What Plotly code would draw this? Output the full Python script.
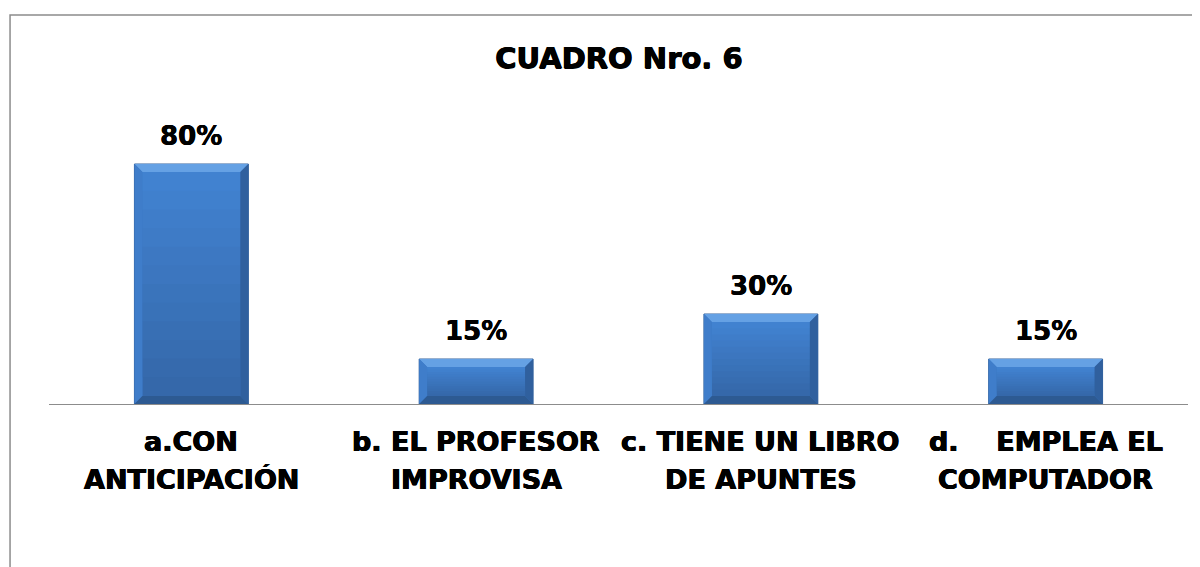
import plotly.graph_objects as go

categories = ["a", "b", "c", "d"]
values = [80, 15, 30, 15]
label_line1 = ["a.CON", "b. EL PROFESOR", "c. TIENE UN LIBRO", "d.\u00a0\u00a0\u00a0\u00a0EMPLEA EL"]
label_line2 = ["ANTICIPACIÓN", "IMPROVISA", "DE APUNTES", "COMPUTADOR"]
title_text = "CUADRO Nro. 6"

FONT = "DejaVu Sans"
HEAVY = "0.5px 0 0 black, -0.5px 0 0 black, 0 0.4px 0 black"
LIGHT_HEAVY = "0.3px 0 0 black, -0.3px 0 0 black"
BAR_W = 0.4

fig = go.Figure()
fig.add_trace(go.Bar(
    x=list(range(len(categories))), y=values, width=BAR_W,
    marker=dict(color="#3a76c2", line=dict(color="#33619c", width=1)),
    hoverinfo="skip", showlegend=False,
))


def mix(c1, c2, t):
    a = [int(c1[k:k + 2], 16) for k in (1, 3, 5)]
    b = [int(c2[k:k + 2], 16) for k in (1, 3, 5)]
    return "#" + "".join(f"{round(a[j] + (b[j] - a[j]) * t):02x}" for j in range(3))


TOP_C, BOT_C = "#4283d2", "#3467a8"
shapes = []
bx = 0.028   # bevel width in x units
by = 2.7     # bevel depth in y units
NB = 12
for i, v in enumerate(values):
    x0, x1 = i - BAR_W / 2, i + BAR_W / 2
    # vertical gradient of the face (stacked, each band reaching the top to avoid seams)
    for k in range(NB):
        ya = by + (v - 2 * by) * k / NB
        shapes.append(dict(type="rect", xref="x", yref="y",
                           x0=x0 + bx, x1=x1 - bx, y0=ya, y1=v - by,
                           fillcolor=mix(BOT_C, TOP_C, (k + 0.5) / NB),
                           line=dict(width=0), layer="above"))
    shapes.append(dict(type="path", xref="x", yref="y",
                       path=f"M {x0},{v} L {x1},{v} L {x1-bx},{v-by} L {x0+bx},{v-by} Z",
                       fillcolor="#65a1e4", line=dict(width=0), layer="above"))
    shapes.append(dict(type="path", xref="x", yref="y",
                       path=f"M {x0},{v} L {x0+bx},{v-by} L {x0+bx},{by} L {x0},0 Z",
                       fillcolor="#3f7dca", line=dict(width=0), layer="above"))
    shapes.append(dict(type="path", xref="x", yref="y",
                       path=f"M {x1},{v} L {x1-bx},{v-by} L {x1-bx},{by} L {x1},0 Z",
                       fillcolor="#30609e", line=dict(width=0), layer="above"))
    shapes.append(dict(type="path", xref="x", yref="y",
                       path=f"M {x0},0 L {x1},0 L {x1-bx},{by} L {x0+bx},{by} Z",
                       fillcolor="#2d5a92", line=dict(width=0), layer="above"))

shapes.append(dict(type="rect", xref="paper", yref="paper",
                   x0=-0.0342, x1=1.05, y0=-0.7, y1=1.2967,
                   line=dict(color="#8c8c8c", width=1.5), fillcolor="rgba(0,0,0,0)"))

annotations = []
for i, v in enumerate(values):
    annotations.append(dict(x=i, y=v, xref="x", yref="y", text=f"<b>{v}%</b>",
                            showarrow=False, yshift=28, yanchor="middle",
                            font=dict(family=FONT, size=26, color="black", shadow=LIGHT_HEAVY)))
    annotations.append(dict(x=i, y=0, xref="x", yref="y", text=f"<b>{label_line1[i]}</b>",
                            showarrow=False, yshift=-37, yanchor="middle",
                            font=dict(family=FONT, size=27, color="black", shadow=HEAVY)))
    annotations.append(dict(x=i, y=0, xref="x", yref="y", text=f"<b>{label_line2[i]}</b>",
                            showarrow=False, yshift=-75, yanchor="middle",
                            font=dict(family=FONT, size=27, color="black", shadow=HEAVY)))

fig.update_layout(
    width=1200, height=567,
    margin=dict(l=41, r=20, t=96, b=171),
    paper_bgcolor="white", plot_bgcolor="white",
    title=dict(text=f"<b>{title_text}</b>", x=611 / 1200, xanchor="center",
               y=1 - 50 / 567, yanchor="middle",
               font=dict(family=FONT, size=29, color="black", shadow=HEAVY)),
    xaxis=dict(range=[-0.5, len(categories) - 0.5], showticklabels=False,
               showgrid=False, zeroline=False, showline=False, ticks=""),
    yaxis=dict(range=[0, 100], showticklabels=False, showgrid=False,
               zeroline=True, zerolinecolor="#8c8c8c", zerolinewidth=1.2,
               showline=False, ticks=""),
    shapes=shapes,
    annotations=annotations,
)

fig.write_html("out.html")
